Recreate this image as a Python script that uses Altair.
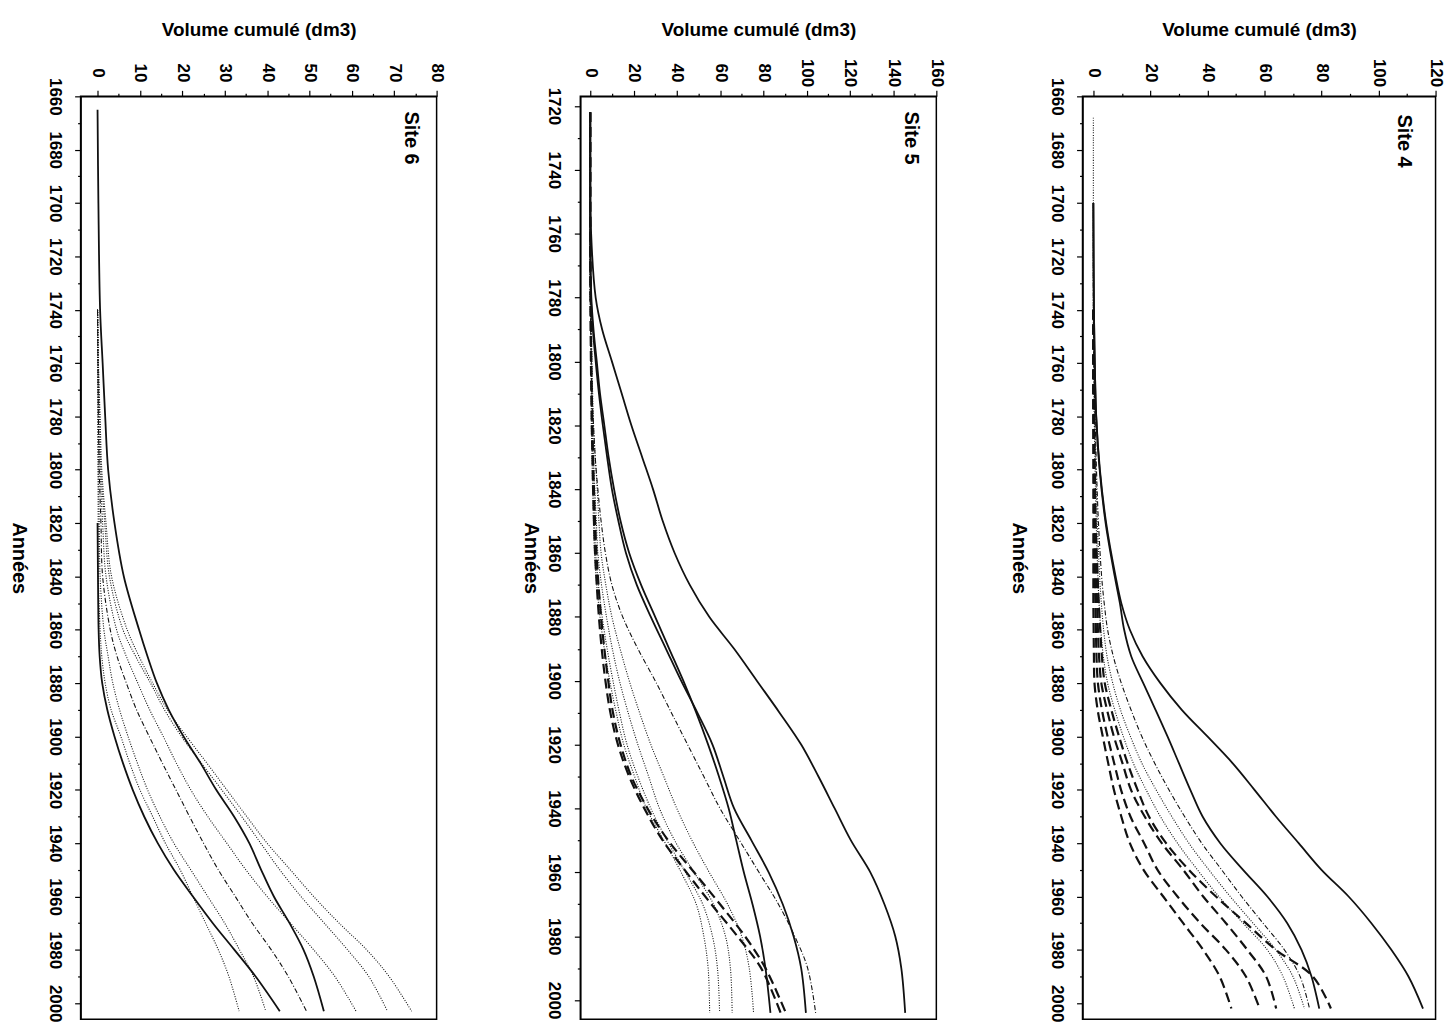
import altair as alt
import pandas as pd

FONT = "Liberation Sans"

# ---------------- Site 6 ----------------
S6_YEARS = [1665, 1700, 1740, 1760, 1780, 1800, 1820, 1840, 1860, 1870, 1880, 1890,
            1900, 1910, 1920, 1930, 1940, 1950, 1960, 1970, 1980, 1990, 2003]
S6_A = [0, 0.2, 0.6, 1.2, 1.8, 2.5, 4.0, 6.2, 9.8, 11.8, 14.0, 16.8,
        20.3, 24.3, 28.0, 32.2, 35.8, 38.6, 41.6, 45.3, 48.6, 51.0, 53.4]
S6_B = [None, None, None, None, None, None, 0, 0.1, 0.25, 0.5, 1.1, 2.3,
        4.0, 6.0, 8.3, 11.0, 14.2, 18.0, 22.5, 27.2, 32.3, 37.3, 43.0]
S6_D1 = [None, None, 0, 0.05, 0.08, 0.1, 0.15, 0.2, 0.6, 1.0, 1.8, 3.2,
         5.5, 7.6, 10.0, 13.0, 16.0, 19.5, 22.5, 25.5, 28.5, 31.0, 33.4]
S6_D2 = [None, None, 0, 0.05, 0.1, 0.2, 0.4, 0.6, 1.5, 2.5, 3.6, 5.2,
         7.2, 9.4, 11.8, 14.7, 18.0, 22.0, 26.0, 30.0, 33.5, 36.8, 39.7]
S6_D3 = [None, None, 0, 0.1, 0.2, 0.4, 0.8, 1.2, 3.0, 4.6, 6.8, 9.2,
         12.2, 15.3, 18.5, 21.7, 25.0, 28.5, 32.5, 36.5, 41.0, 45.0, 49.3]
S6_D4 = [None, None, 0, 0.1, 0.3, 0.6, 1.2, 2.0, 4.5, 6.8, 9.5, 12.3,
         15.5, 18.6, 22.0, 26.0, 30.5, 35.0, 40.0, 45.5, 51.0, 56.0, 61.0]
S6_D5 = [None, None, 0, 0.2, 0.5, 0.8, 1.7, 2.8, 6.0, 9.0, 12.5, 15.8,
         19.8, 24.5, 29.3, 34.0, 38.5, 43.0, 48.0, 53.5, 59.0, 64.0, 68.4]
S6_D6 = [None, None, 0, 0.2, 0.6, 1.0, 2.0, 3.3, 7.0, 9.8, 13.0, 16.5,
         21.0, 25.8, 30.5, 35.2, 40.0, 45.5, 51.0, 57.0, 63.5, 68.8, 74.1]

# ---------------- Site 5 ----------------
S5_YEARS = [1722, 1740, 1760, 1780, 1790, 1800, 1810, 1820, 1830, 1840, 1850, 1860, 1870,
            1880, 1890, 1900, 1910, 1920, 1930, 1940, 1950, 1960, 1970, 1980, 1990, 2004]
S5_C = [0, 0, 0.4, 2.5, 5.5, 10.0, 14.5, 19.0, 24.0, 29.0, 33.5, 39.0, 46.0,
        55.0, 66.5, 77.0, 87.5, 97.5, 105.5, 113.0, 120.5, 129.5, 136.0, 141.0, 143.8, 145.6]
S5_S1 = [0, 0, 0, 0.5, 1.5, 3.0, 4.5, 6.5, 8.5, 11.0, 14.0, 18.0, 23.5,
         30.0, 36.5, 43.0, 49.0, 54.5, 59.5, 64.0, 67.5, 71.0, 75.0, 78.5, 81.0, 83.3]
S5_S2 = [0, 0, 0, 0.3, 1.2, 2.5, 4.0, 5.8, 7.8, 10.0, 13.0, 16.5, 21.5,
         28.0, 35.0, 42.0, 49.5, 56.5, 61.5, 66.5, 74.5, 82.5, 89.0, 94.0, 97.5, 99.7]
S5_DD = [None, 0, 0, 0, 0.2, 0.5, 0.8, 1.5, 2.3, 3.5, 5.0, 7.0, 10.0,
         15.0, 22.0, 30.0, 37.5, 45.0, 52.5, 60.0, 69.0, 78.0, 87.0, 94.5, 100.5, 104.2]
S5_E1 = [0, 0, 0, 0.2, 0.3, 0.5, 0.7, 1.0, 1.3, 1.7, 2.2, 2.9, 3.8,
         5.0, 6.5, 8.3, 10.5, 14.0, 19.0, 26.5, 36.0, 48.0, 60.0, 71.5, 81.0, 90.4]
S5_E2 = [0, 0, 0, 0.1, 0.2, 0.3, 0.5, 0.7, 1.0, 1.3, 1.7, 2.2, 3.0,
         4.0, 5.3, 7.0, 9.3, 12.8, 18.0, 25.0, 33.5, 44.5, 56.0, 68.0, 79.0, 88.0]
S5_F1 = [0, 0, 0, 0, 0.2, 0.3, 0.4, 0.5, 0.8, 1.1, 1.5, 2.0, 3.0,
         4.5, 6.5, 9.0, 12.0, 15.5, 20.5, 26.0, 34.0, 42.0, 49.0, 52.5, 54.5, 55.2]
S5_F2 = [0, 0, 0, 0, 0.2, 0.4, 0.6, 0.8, 1.2, 1.6, 2.0, 2.5, 3.8,
         5.5, 7.8, 10.5, 13.5, 17.0, 22.0, 28.0, 35.5, 44.0, 52.0, 56.5, 58.8, 59.8]
S5_F3 = [0, 0, 0, 0.1, 0.3, 0.5, 0.7, 1.0, 1.5, 2.1, 2.8, 3.5, 5.2,
         7.5, 10.2, 13.5, 17.5, 22.0, 27.0, 32.0, 39.0, 48.0, 57.0, 62.5, 64.8, 65.6]
S5_F4 = [0, 0, 0, 0.2, 0.5, 0.8, 1.1, 1.5, 2.3, 3.2, 4.0, 5.0, 7.2,
         10.0, 13.8, 18.0, 22.8, 28.0, 34.0, 40.0, 47.0, 55.0, 63.5, 70.0, 73.5, 75.5]

# ---------------- Site 4 ----------------
S4_YEARS = [1668, 1700, 1740, 1760, 1780, 1800, 1820, 1840, 1850, 1860, 1870, 1880,
            1890, 1900, 1910, 1920, 1930, 1940, 1950, 1960, 1970, 1980, 1990, 2002]
S4_G = [None, 0, 0.2, 0.5, 1.0, 2.3, 4.5, 7.8, 9.8, 12.8, 17.3, 23.5,
        31.0, 40.0, 48.8, 56.5, 64.0, 72.0, 80.0, 89.5, 97.5, 104.5, 110.5, 115.6]
S4_H = [None, 0, 0.2, 0.5, 1.0, 2.2, 4.3, 7.5, 9.3, 10.8, 13.3, 17.5,
        21.8, 26.0, 30.0, 34.0, 38.3, 44.5, 52.5, 61.0, 68.0, 73.0, 76.5, 79.2]
S4_K1 = [None, None, 0, 0, 0, 0, 0, 0, 0, 0.1, 0.2, 0.4,
         1.5, 3.3, 5.2, 7.2, 9.8, 12.8, 17.6, 24.5, 31.5, 38.5, 44.3, 48.4]
S4_K2 = [None, None, 0, 0, 0.1, 0.2, 0.3, 0.5, 0.7, 0.9, 1.1, 1.6,
         3.0, 5.0, 7.3, 9.7, 13.0, 17.8, 22.5, 29.5, 37.5, 46.5, 53.5, 58.3]
S4_K3 = [None, None, 0, 0, 0.1, 0.3, 0.5, 1.0, 1.3, 1.6, 2.0, 2.8,
         4.8, 7.2, 10.2, 13.2, 18.0, 24.0, 31.5, 38.5, 46.5, 54.0, 60.6, 64.1]
S4_K4 = [None, None, 0, 0, 0.2, 0.5, 0.8, 1.5, 1.9, 2.4, 3.0, 4.0,
         6.3, 9.0, 12.0, 15.5, 19.5, 25.5, 33.5, 43.0, 53.5, 64.0, 77.0, 83.3]
S4_P1 = [0, 0, 0, 0.1, 0.3, 0.6, 1.0, 1.6, 2.0, 2.6, 3.5, 5.0,
         7.5, 10.5, 14.0, 18.5, 23.5, 29.5, 36.5, 44.0, 52.5, 61.0, 66.5, 70.5]
S4_P2 = [None, 0, 0, 0.2, 0.5, 0.9, 1.4, 2.2, 2.8, 3.6, 4.8, 6.8,
         9.5, 13.0, 17.0, 22.0, 27.5, 33.5, 40.5, 48.0, 56.0, 64.0, 70.0, 74.0]
S4_P3 = [None, 0, 0, 0.2, 0.6, 1.1, 1.8, 2.9, 3.8, 5.0, 7.0, 9.8,
         13.2, 17.0, 21.5, 26.5, 32.0, 38.0, 45.0, 52.0, 59.5, 67.0, 72.5, 75.8]

X_TITLE = "Volume cumulé (dm3)"
Y_TITLE = "Années"

STYLES = {
    "solid":   dict(strokeWidth=1.8, color="#111111"),
    "dot":     dict(strokeWidth=1.1, color="#111111", strokeDash=[1, 1.5]),
    "dashdot": dict(strokeWidth=1.1, color="#111111", strokeDash=[5, 2, 1, 2]),
    "dash":    dict(strokeWidth=2.2, color="#111111", strokeDash=[10, 5]),
}


def panel(site, years, series, xdom, xminor, xmajor, ydom, yfirst, w, h,
          title_x, lab_x, lab_y):
    rows = []
    for name, (vals, style) in series.items():
        for yr, v in zip(years, vals):
            if v is not None:
                rows.append({"year": yr, "vol": v, "series": name, "style": style})
    df = pd.DataFrame(rows)

    xvals = list(range(0, int(xdom[1]) + 1, xminor))
    yvals = list(range(yfirst, 2001, 10))

    x = alt.X("vol:Q",
              scale=alt.Scale(domain=xdom, nice=False, zero=False),
              axis=alt.Axis(orient="top", title=X_TITLE, values=xvals, format="d",
                            labelExpr=f"datum.value % {xmajor} == 0 ? datum.label : ''",
                            labelAngle=90, labelAlign="center", labelBaseline="middle",
                            labelPadding=18, labelOverlap=False, grid=False,
                            tickSize={"condition": {"test": f"datum.value % {xmajor} == 0",
                                                    "value": 6}, "value": 3},
                            titleY=-67, titleBaseline="middle", titleAlign="center"))
    y = alt.Y("year:Q",
              scale=alt.Scale(domain=ydom, nice=False, zero=False, reverse=True),
              axis=alt.Axis(title=Y_TITLE, values=yvals, format="d",
                            labelExpr="datum.value % 20 == 0 ? datum.label : ''",
                            labelAngle=90, labelAlign="center", labelBaseline="middle",
                            labelPadding=20.5, labelOverlap=False, grid=False,
                            tickSize={"condition": {"test": "datum.value % 20 == 0",
                                                    "value": 6}, "value": 3},
                            titleAngle=90, titleX=title_x, titleY=h / 2,
                            titleAlign="center", titleBaseline="middle"))

    layers = []
    for st in ["dot", "dashdot", "dash", "solid"]:
        sub = df[df["style"] == st]
        if sub.empty:
            continue
        layers.append(
            alt.Chart(sub).mark_line(interpolate="catmull-rom", **STYLES[st]).encode(
                x=x, y=y, detail="series:N", order="year:Q")
        )
    txt = alt.Chart(pd.DataFrame({"t": [site]})).mark_text(
        angle=90, font=FONT, fontSize=20, fontWeight="bold", align="center",
        baseline="middle", color="black").encode(
        x=alt.value(lab_x), y=alt.value(lab_y), text="t:N")
    layers.append(txt)
    return alt.layer(*layers).properties(width=w, height=h)


H = 928
p6 = panel("Site 6", S6_YEARS,
           {"A": (S6_A, "solid"), "B": (S6_B, "solid"), "D1": (S6_D1, "dot"),
            "D2": (S6_D2, "dot"), "D3": (S6_D3, "dashdot"), "D4": (S6_D4, "dot"),
            "D5": (S6_D5, "dot"), "D6": (S6_D6, "dot")},
           [-4, 80], 5, 10, [1660, 2006], 1660, 358, H, -62, 332, 42)
p5 = panel("Site 5", S5_YEARS,
           {"C": (S5_C, "solid"), "S1": (S5_S1, "solid"), "S2": (S5_S2, "solid"),
            "DD": (S5_DD, "dashdot"), "E1": (S5_E1, "dash"), "E2": (S5_E2, "dash"),
            "F1": (S5_F1, "dot"), "F2": (S5_F2, "dot"), "F3": (S5_F3, "dot"),
            "F4": (S5_F4, "dot")},
           [-4.6, 160], 10, 20, [1717, 2006], 1720, 358, H, -50, 332, 42)
p4 = panel("Site 4", S4_YEARS,
           {"G": (S4_G, "solid"), "H": (S4_H, "solid"), "K1": (S4_K1, "dash"),
            "K2": (S4_K2, "dash"), "K3": (S4_K3, "dash"), "K4": (S4_K4, "dash"),
            "P1": (S4_P1, "dot"), "P2": (S4_P2, "dot"), "P3": (S4_P3, "dashdot")},
           [-3.8, 120], 10, 20, [1660, 2006], 1660, 355, H, -64, 323, 45)

chart = alt.hconcat(alt.hconcat(p6, p5, spacing=73.5), p4, spacing=61.5).properties(
    padding={"left": 0, "top": 9, "right": 0, "bottom": 0}
).configure_view(stroke="black", strokeWidth=1.5).configure_axis(
    domainColor="black", domainWidth=1.5, tickColor="black", tickWidth=1.2,
    labelFont=FONT, labelFontSize=17, labelFontWeight="bold", labelColor="black",
    titleFont=FONT, titleFontSize=19, titleFontWeight="bold", titleColor="black"
).configure_axisY(titleFontSize=20)

chart.save("out.html", embed_options={"renderer": "svg", "actions": False})
